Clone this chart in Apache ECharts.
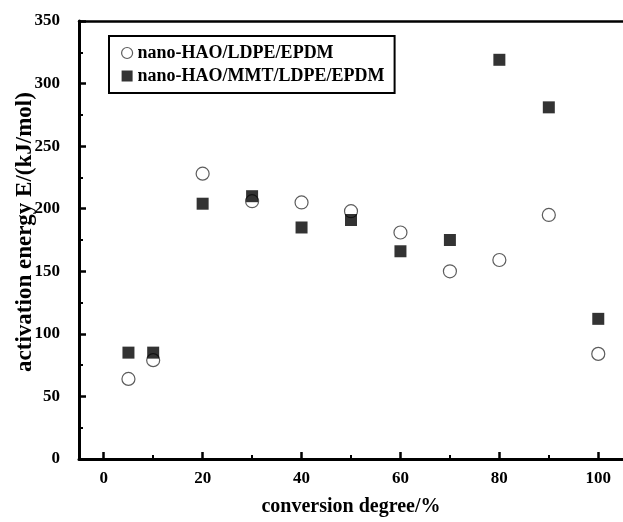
<!DOCTYPE html>
<html>
<head>
<meta charset="utf-8">
<script src="https://cdn.jsdelivr.net/npm/echarts@6/dist/echarts.min.js"></script>
<style>
  html, body { margin: 0; padding: 0; background: #fff; }
  #chart { width: 623px; height: 522px; }
</style>
</head>
<body>
<div id="chart"></div>
<script>
// conversion degree (%) where the energy was evaluated
const conversion = [5, 10, 20, 30, 40, 50, 60, 70, 80, 90, 100];
// activation energy, kJ/mol
const haoLdpe = [64, 79, 228, 206, 205, 198, 181, 150, 159, 195, 84];
const haoMmtLdpe = [85, 85, 204, 210, 185, 191, 166, 175, 319, 281, 112];

const xMajorTicks = [0, 20, 40, 60, 80, 100];
const xMinorTicks = [10, 30, 50, 70, 90];

const seriesNames = ['nano-HAO/LDPE/EPDM', 'nano-HAO/MMT/LDPE/EPDM'];
const xTitle = 'conversion degree/%';
const yTitle = 'activation energy E/(kJ/mol)';

const font = 'Liberation Serif';
const zip = ys => conversion.map((x, i) => [x, ys[i]]);

const chart = echarts.init(document.getElementById('chart'));

const option = {
    animation: false,
    backgroundColor: '#fff',
    grid: { left: 79, right: -2, top: 21, bottom: 53 },
    // y title sits a little above the middle of the axis
    graphic: [{
        type: 'text',
        rotation: Math.PI / 2,
        x: 25,
        y: 232,
        style: {
            text: yTitle,
            fontFamily: font,
            fontWeight: 'bold',
            fontSize: 23,
            fill: '#000',
            align: 'center',
            verticalAlign: 'middle'
        }
    }],
    legend: {
        orient: 'vertical',
        left: 109,
        top: 36,
        itemWidth: 11,
        itemHeight: 11,
        itemGap: 5,
        padding: [8, 10, 8, 12],
        borderColor: '#000',
        borderWidth: 2,
        textStyle: { fontFamily: font, fontWeight: 'bold', fontSize: 18, color: '#000' },
        data: [
            { name: seriesNames[0], icon: 'circle', itemStyle: { color: '#fff', borderColor: '#333', borderWidth: 1.2 } },
            { name: seriesNames[1], icon: 'rect' }
        ]
    },
    xAxis: [
        {
            type: 'value',
            min: -5,
            max: 105,
            name: xTitle,
            nameLocation: 'middle',
            nameGap: 38,
            nameTextStyle: { fontFamily: font, fontWeight: 'bold', fontSize: 20, color: '#000' },
            axisLine: { lineStyle: { color: '#000', width: 3 } },
            axisTick: { inside: true, length: 7, lineStyle: { width: 2.5, color: '#000' }, customValues: xMajorTicks },
            axisLabel: { customValues: xMajorTicks, margin: 11, fontFamily: font, fontWeight: 'bold', fontSize: 17, color: '#000' },
            splitLine: { show: false }
        },
        {
            type: 'value',
            min: -5,
            max: 105,
            position: 'bottom',
            axisLine: { show: false },
            axisTick: { inside: true, length: 4, lineStyle: { width: 2, color: '#000' }, customValues: xMinorTicks },
            axisLabel: { show: false },
            splitLine: { show: false }
        },
        {
            type: 'value',
            min: -5,
            max: 105,
            position: 'top',
            axisLine: { lineStyle: { color: '#000', width: 2.5 } },
            axisTick: { show: false },
            axisLabel: { show: false },
            splitLine: { show: false }
        }
    ],
    yAxis: {
        type: 'value',
        min: 0,
        max: 350,
        interval: 50,
        axisLine: { show: true, onZero: false, lineStyle: { color: '#000', width: 3 } },
        axisTick: { inside: true, length: 7, lineStyle: { width: 2.5, color: '#000' } },
        minorTick: { show: true, splitNumber: 2, length: 4, lineStyle: { width: 2, color: '#000' } },
        axisLabel: { margin: 19, fontFamily: font, fontWeight: 'bold', fontSize: 17, color: '#000' },
        splitLine: { show: false }
    },
    series: [
        {
            name: seriesNames[0],
            type: 'scatter',
            symbol: 'circle',
            symbolSize: 13,
            itemStyle: { color: '#fff', borderColor: '#333', borderWidth: 1.2 },
            data: zip(haoLdpe)
        },
        {
            name: seriesNames[1],
            type: 'scatter',
            symbol: 'rect',
            symbolSize: 12,
            itemStyle: { color: '#000' },
            data: zip(haoMmtLdpe)
        }
    ]
};

chart.setOption(option);
</script>
</body>
</html>
